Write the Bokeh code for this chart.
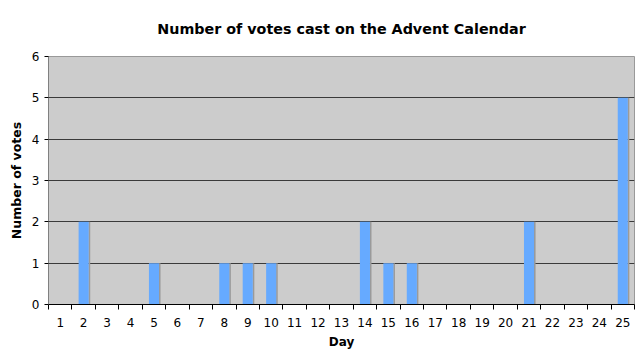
from bokeh.plotting import figure
from bokeh.models import FixedTicker, Range1d
from bokeh.embed import file_html
from bokeh.resources import INLINE

days = list(range(1, 26))
votes = [0, 2, 0, 0, 1, 0, 0, 1, 1, 1, 0, 0, 0, 2, 1, 1, 0, 0, 0, 0, 2, 0, 0, 0, 5]
y_ticks = [0, 1, 2, 3, 4, 5, 6]
title_text = "Number of votes cast on the Advent Calendar"

FONT = "DejaVu Sans"

p = figure(width=640, height=358, output_backend="svg", toolbar_location=None,
           x_range=Range1d(0.5, 25.5), y_range=Range1d(0, 6),
           title=title_text,
           min_border_left=48, min_border_right=6, min_border_top=56, min_border_bottom=54)

p.background_fill_color = "#cccccc"
p.border_fill_color = "white"
p.outline_line_color = "#999999"

# bar shadows and bars
bar_w = 0.43
shadow_x = [d + bar_w / 2 + 0.03 for d in days]
p.vbar(x=shadow_x, top=votes, width=0.07, bottom=0, fill_color="#9a9a9a", line_color=None)
p.vbar(x=days, top=votes, width=bar_w, bottom=0, fill_color="#66aaff", line_color=None)

# title
p.title.text_font = FONT
p.title.text_font_size = "14.3px"
p.title.text_font_style = "bold"
p.title.align = "center"
p.title.vertical_align = "top"
p.title.text_color = "black"
p.title.standoff = 36

# x axis: labels at centres, ticks at boundaries
xa = p.xaxis[0]
xa.ticker = FixedTicker(ticks=days, minor_ticks=[d + 0.5 for d in range(0, 26)])
xa.major_tick_out = 0
xa.major_tick_in = 0
xa.minor_tick_out = 5
xa.minor_tick_in = 0
xa.minor_tick_line_color = "black"
xa.axis_line_color = "black"
xa.major_label_text_font = FONT
xa.major_label_text_font_size = "12px"
xa.major_label_text_color = "black"
xa.major_label_standoff = 8
xa.axis_label = "Day"
xa.axis_label_text_font = FONT
xa.axis_label_text_font_size = "12px"
xa.axis_label_text_font_style = "bold"
xa.axis_label_text_color = "black"
xa.axis_label_standoff = 5

ya = p.yaxis[0]
ya.ticker = FixedTicker(ticks=y_ticks)
ya.major_tick_out = 4
ya.major_tick_in = 0
ya.minor_tick_line_color = None
ya.axis_line_color = "#808080"
ya.major_tick_line_color = "black"
ya.major_label_text_font = FONT
ya.major_label_text_font_size = "12px"
ya.major_label_text_color = "black"
ya.major_label_standoff = 5
ya.axis_label = "Number of votes"
ya.axis_label_text_font = FONT
ya.axis_label_text_font_size = "12.5px"
ya.axis_label_text_font_style = "bold"
ya.axis_label_text_color = "black"
ya.axis_label_standoff = 5

p.xgrid.grid_line_color = None
p.ygrid.ticker = FixedTicker(ticks=y_ticks)
p.ygrid.grid_line_color = "#3a3a3a"
p.ygrid.grid_line_width = 1

open("out.html", "w").write(file_html(p, INLINE))
